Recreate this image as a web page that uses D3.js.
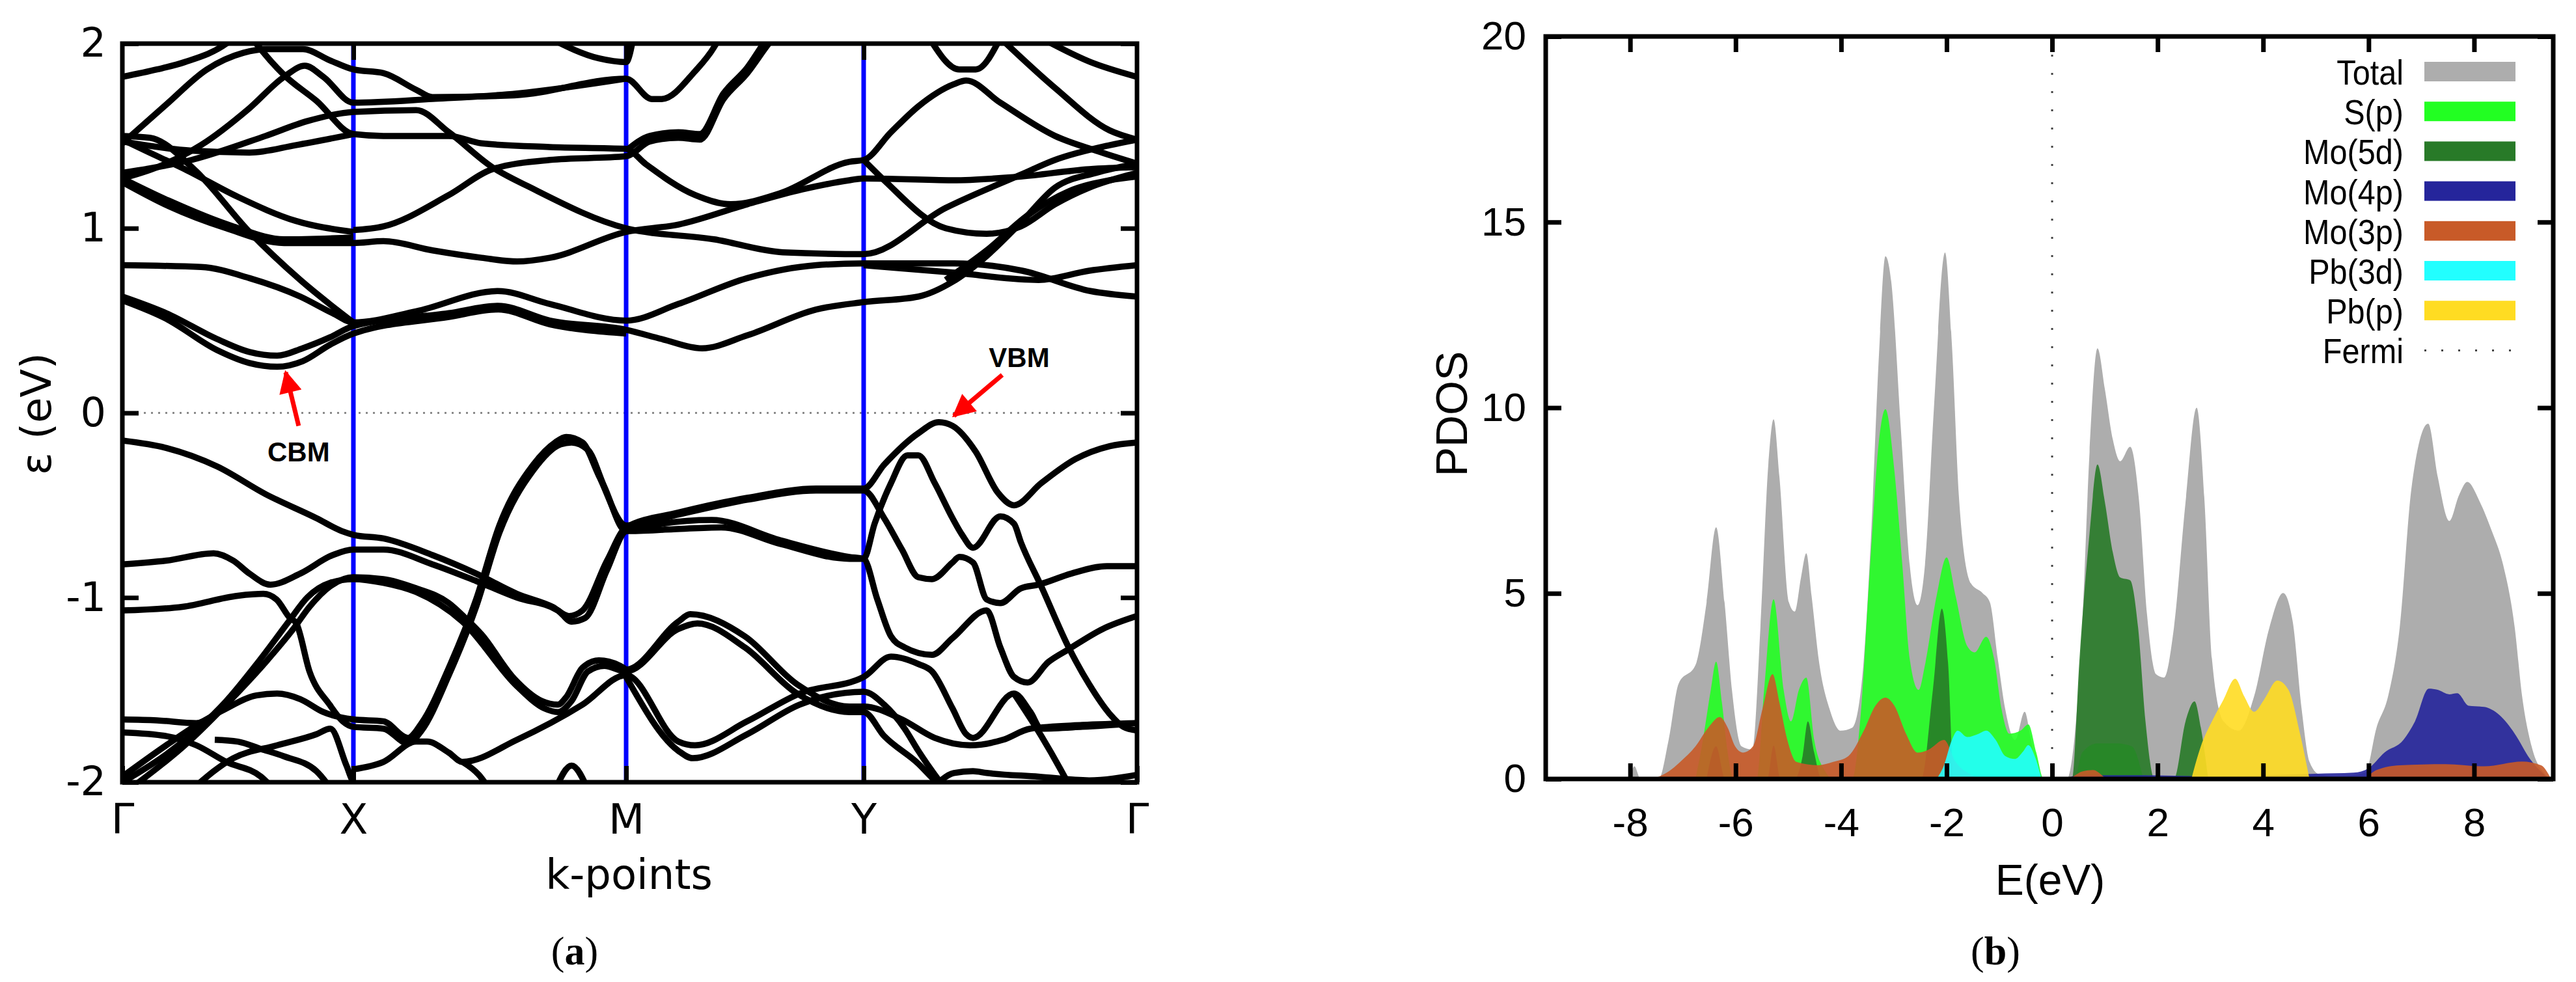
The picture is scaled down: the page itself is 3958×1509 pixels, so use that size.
<!DOCTYPE html>
<html>
<head>
<meta charset="utf-8">
<script src="https://cdn.jsdelivr.net/npm/d3@7"></script>
<style>
  body { margin: 0; background: #fff; }
</style>
</head>
<body>
<svg id="fig" width="3958" height="1509"></svg>
<script>
// ---------- band structure (panel a) ----------
const kLabels = ["Γ", "X", "M", "Y", "Γ"];
const kPath = [0, 0.2277, 0.4965, 0.7306, 1];   // relative path length of Γ X M Y Γ
const bandTicks = [-2, -1, 0, 1, 2];

// each band: [k (0..4 along Γ-X-M-Y-Γ), E (eV)]
const bandsUpper = [
  [[0,1.82],[0.15,1.86],[0.27,1.90],[0.45,2.0],[0.5,2.05]],
  [[0.55,2.05],[0.58,2.0],[0.70,1.83],[0.84,1.69],[1.0,1.51],[1.11,1.50],[1.35,1.50],[1.47,1.46],[1.72,1.44],[2.0,1.43],[2.08,1.35],[2.29,1.18],[2.44,1.13],[2.65,1.19],[2.94,1.36],[3.0,1.37],[3.1,1.52],[3.2,1.66],[3.33,1.78],[3.375,1.80],[3.5,1.68],[3.7,1.50],[3.85,1.42],[4,1.35]],
  [[1.0,0.99],[1.11,1.01],[1.35,1.18],[1.51,1.32],[1.72,1.37],[2.0,1.39],[2.1,1.47],[2.22,1.49],[2.31,1.48],[2.41,1.70],[2.51,1.84],[2.6,2.0],[2.65,2.08]],
  [[2.0,1.42],[2.1,1.50],[2.22,1.52],[2.31,1.51],[2.41,1.73],[2.51,1.87],[2.59,2.02],[2.63,2.08]],
  [[0,1.46],[0.19,1.67],[0.366,1.86],[0.524,1.95],[0.624,1.97],[0.782,1.97],[0.897,1.91],[1.0,1.86],[1.11,1.84],[1.23,1.75],[1.29,1.71],[1.59,1.72],[2.0,1.81],[2.108,1.70],[2.15,1.70],[2.29,1.85],[2.37,1.98],[2.4,2.05]],
  [[0,1.27],[0.15,1.33],[0.34,1.45],[0.55,1.65],[0.7,1.82],[0.79,1.88],[0.87,1.82],[1.0,1.68],[1.29,1.70],[1.6,1.73],[2.0,1.81]],
  [[0,1.30],[0.3,1.37],[0.62,1.50],[0.8,1.58],[1.0,1.63],[1.23,1.64],[1.35,1.52],[1.51,1.33],[1.65,1.22],[2.0,1.0],[2.37,0.94],[2.66,0.87],[3.0,0.86],[3.3,1.11],[3.575,1.29],[3.7,1.37],[3.9,1.45],[4,1.48]],
  [[0,1.25],[0.2,1.12],[0.45,1.0],[0.7,0.92],[1.0,0.92],[1.11,0.93],[1.29,0.88],[1.47,0.84],[1.6,0.82],[1.72,0.84],[2.0,0.98],[2.22,1.02],[2.51,1.13],[2.74,1.21],[2.94,1.26],[3.0,1.27],[3.325,1.26],[3.575,1.28],[3.825,1.32],[4,1.33]],
  [[0,1.27],[0.2,1.15],[0.48,1.01],[0.7,0.94],[1.0,0.95]],
  [[0,1.48],[0.1,1.42],[0.27,1.32],[0.5,1.17],[0.75,1.04],[1.0,0.98]],
  [[0,1.50],[0.12,1.49],[0.31,1.32],[0.55,0.98],[0.77,0.72],[1.0,0.49]],
  [[0,0.80],[0.34,0.79],[0.55,0.73],[0.77,0.63],[0.91,0.54],[1.0,0.49],[1.23,0.55],[1.53,0.66],[1.72,0.59],[2.0,0.50],[2.22,0.59],[2.51,0.73],[2.8,0.80],[3.0,0.81],[3.33,0.81],[3.58,0.77],[3.83,0.66],[4,0.63]],
  [[0,0.63],[0.19,0.54],[0.41,0.40],[0.55,0.33],[0.67,0.31],[0.78,0.35],[0.9,0.41],[1.0,0.47],[1.35,0.54],[1.53,0.58],[1.72,0.50],[2.0,0.45],[2.15,0.40],[2.32,0.35],[2.51,0.42],[2.8,0.56],[3.0,0.60],[3.2,0.63],[3.325,0.71],[3.45,0.85],[3.575,1.03],[3.7,1.22],[3.85,1.30],[4,1.35]],
  [[0,0.61],[0.19,0.51],[0.41,0.34],[0.55,0.27],[0.67,0.25],[0.78,0.28],[0.9,0.37],[1.0,0.43],[1.35,0.52],[1.53,0.56],[1.72,0.48],[2.0,0.43]],
  [[3.0,0.80],[3.325,0.76],[3.64,0.72],[3.825,0.77],[4,0.80]],
  [[3.3,0.72],[3.45,0.88],[3.6,1.07],[3.75,1.2],[3.9,1.26],[4,1.28]],
  [[3.0,1.37],[3.075,1.26],[3.3,1.0],[3.45,0.97],[3.575,1.01],[3.7,1.13],[3.825,1.22],[4,1.30]],
  [[1.72,2.03],[1.9,1.92],[2.0,1.90],[2.03,2.03]],
  [[3.24,2.03],[3.35,1.86],[3.41,1.86],[3.5,2.03]],
  [[3.5,2.03],[3.7,1.76],[3.9,1.53],[4,1.48]],
  [[3.65,2.03],[3.83,1.90],[4,1.82]],
  [[0,1.47],[0.3,1.42],[0.55,1.41],[0.75,1.45],[1.0,1.51]]
];

const bandsLower = [
  [[0,-0.15],[0.19,-0.19],[0.41,-0.29],[0.62,-0.44],[0.84,-0.57],[0.95,-0.64],[1.0,-0.66],[1.11,-0.68],[1.29,-0.77],[1.45,-0.87],[1.6,-0.98],[1.73,-1.05],[1.79,-1.10],[1.84,-1.07],[1.93,-0.80],[2.0,-0.62],[2.22,-0.54],[2.51,-0.46],[2.8,-0.41],[3.0,-0.41],[3.075,-0.28],[3.2,-0.11],[3.275,-0.05],[3.325,-0.07],[3.41,-0.21],[3.49,-0.43],[3.55,-0.50],[3.65,-0.38],[3.775,-0.25],[3.9,-0.18],[4,-0.16]],
  [[0,-0.82],[0.19,-0.80],[0.395,-0.76],[0.48,-0.80],[0.55,-0.87],[0.64,-0.93],[0.77,-0.87],[0.91,-0.77],[1.0,-0.74],[1.11,-0.74],[1.29,-0.82],[1.45,-0.91],[1.6,-1.0],[1.75,-1.07],[1.8,-1.13],[1.85,-1.11],[1.93,-0.85],[2.0,-0.64],[2.36,-0.58],[2.65,-0.69],[2.94,-0.78],[3.0,-0.79],[3.05,-1.01],[3.1,-1.21],[3.15,-1.27],[3.25,-1.31],[3.325,-1.22],[3.45,-1.07],[3.5,-1.27],[3.55,-1.43],[3.6,-1.46],[3.675,-1.35],[3.75,-1.28],[3.875,-1.17],[4,-1.10]],
  [[0,-1.66],[0.15,-1.665],[0.32,-1.68],[0.42,-1.62],[0.58,-1.53],[0.67,-1.52],[0.77,-1.55],[0.87,-1.62],[1.0,-1.66],[1.11,-1.67],[1.2,-1.76],[1.25,-1.68],[1.35,-1.38],[1.45,-1.01],[1.535,-0.61],[1.66,-0.28],[1.74,-0.16],[1.78,-0.13],[1.84,-0.16],[1.9,-0.34],[2.0,-0.61],[2.22,-0.55],[2.51,-0.47],[2.8,-0.42],[3.0,-0.42],[3.075,-0.57],[3.14,-0.74],[3.2,-0.89],[3.25,-0.90],[3.325,-0.81],[3.35,-0.78],[3.4,-0.81],[3.45,-1.01],[3.5,-1.03],[3.575,-0.95],[3.64,-0.93],[3.76,-0.87],[3.89,-0.83],[4,-0.83]],
  [[0,-1.07],[0.26,-1.05],[0.5,-0.99],[0.61,-0.98],[0.667,-1.01],[0.725,-1.11],[0.753,-1.14],[0.81,-1.40],[0.897,-1.58],[0.954,-1.67],[1.0,-1.70],[1.11,-1.71],[1.2,-1.79],[1.25,-1.72],[1.35,-1.42],[1.45,-1.05],[1.535,-0.65],[1.66,-0.31],[1.76,-0.17],[1.8,-0.16],[1.86,-0.2],[1.92,-0.4],[2.0,-0.64],[2.2,-0.63],[2.4,-0.62],[2.65,-0.71],[2.94,-0.79],[3.0,-0.79],[3.04,-0.6],[3.1,-0.38],[3.16,-0.23],[3.2,-0.23],[3.26,-0.38],[3.325,-0.57],[3.36,-0.66],[3.4,-0.73],[3.5,-0.56],[3.55,-0.60],[3.575,-0.70],[3.65,-0.94],[3.75,-1.27],[3.825,-1.47],[3.9,-1.63],[3.95,-1.70],[4,-1.72]],
  [[0.05,-2.02],[0.27,-1.80],[0.48,-1.54],[0.62,-1.35],[0.74,-1.17],[0.81,-1.05],[0.91,-0.93],[1.0,-0.89],[1.11,-0.90],[1.23,-0.95],[1.35,-1.03],[1.41,-1.11],[1.47,-1.20],[1.59,-1.44],[1.69,-1.56],[1.75,-1.58],[1.78,-1.54],[1.84,-1.38],[1.9,-1.34],[1.99,-1.38],[2.0,-1.39],[2.22,-1.13],[2.27,-1.09],[2.5,-1.21],[2.72,-1.47],[2.94,-1.59],[3.0,-1.59],[3.14,-1.66],[3.26,-1.76],[3.39,-1.80],[3.51,-1.77],[3.61,-1.71],[3.8,-1.69],[4,-1.68]],
  [[0,-2.0],[0.2,-1.84],[0.45,-1.56],[0.6,-1.33],[0.72,-1.13],[0.8,-1.0],[0.9,-0.92],[1.0,-0.90],[1.11,-0.92],[1.23,-0.97],[1.4,-1.13],[1.6,-1.48],[1.7,-1.6],[1.75,-1.62],[1.8,-1.56],[1.86,-1.40],[1.92,-1.37],[2.0,-1.40],[2.22,-1.17],[2.3,-1.14],[2.5,-1.27],[2.72,-1.52],[2.94,-1.62],[3.0,-1.62],[3.075,-1.75],[3.2,-1.90],[3.26,-1.99],[3.3,-2.04]],
  [[0,-1.97],[0.19,-1.80],[0.31,-1.70],[0.42,-1.62]],
  [[0,-1.73],[0.19,-1.75],[0.32,-1.80],[0.45,-1.89],[0.6,-1.97],[0.65,-2.03]],
  [[0.31,-2.03],[0.48,-1.87],[0.67,-1.80],[0.84,-1.74],[0.9,-1.71],[0.97,-1.91],[1.0,-2.0],[1.05,-2.04]],
  [[0.4,-1.77],[0.5,-1.78],[0.6,-1.82],[0.7,-1.86],[0.84,-1.94],[0.9,-2.03]],
  [[1.0,-1.93],[1.11,-1.89],[1.23,-1.78],[1.27,-1.78],[1.35,-1.84],[1.4,-1.89],[1.6,-1.77],[1.84,-1.58],[2.0,-1.42],[2.22,-1.78],[2.29,-1.80],[2.51,-1.67],[2.73,-1.52],[3.0,-1.43],[3.1,-1.32],[3.2,-1.36],[3.25,-1.40],[3.325,-1.60],[3.375,-1.74],[3.4,-1.76],[3.55,-1.52],[3.61,-1.62],[3.65,-1.71],[3.8,-1.70],[4,-1.68]],
  [[2.0,-1.43],[2.22,-1.83],[2.28,-1.87],[2.51,-1.74],[2.73,-1.58],[3.0,-1.51],[3.075,-1.58],[3.15,-1.71],[3.2,-1.83],[3.275,-1.99],[3.3,-2.04]],
  [[1.4,-1.89],[1.46,-1.96],[1.5,-2.04]],
  [[1.74,-2.04],[1.8,-1.91],[1.86,-2.04]],
  [[3.55,-1.52],[3.65,-1.75],[3.72,-1.93],[3.76,-2.04]],
  [[3.25,-2.04],[3.33,-1.95],[3.4,-1.94],[3.45,-1.95],[3.64,-1.97],[3.825,-1.99],[4,-1.96]]
];

const cbmArrow = [[0.763, -0.07], [0.707, 0.22]];
const vbmArrow = [[3.507, 0.206], [3.330, -0.016]];
const cbmLabel = [0.763, -0.21];
const vbmLabel = [3.569, 0.30];

// ---------- PDOS (panel b) ----------
const dosXTicks = [-8, -6, -4, -2, 0, 2, 4, 6, 8];
const dosYTicks = [0, 5, 10, 15, 20];
const dosNames = ["Total", "S(p)", "Mo(5d)", "Mo(4p)", "Mo(3p)", "Pb(3d)", "Pb(p)"];
const dosColors = ["#adadad", "#22ff22", "#287a28", "#25259b", "#c85a28", "#22ffff", "#ffdc22"];

const dosTotal = [[-8.0,0],[-7.92,0.34],[-7.8,0],[-7.46,0],[-7.27,1.05],[-7.08,2.57],[-6.76,3.07],[-6.55,4.76],[-6.37,6.78],[-6.21,4.76],[-6.07,2.4],[-5.89,0.88],[-5.68,0.79],[-5.53,4.08],[-5.38,8.47],[-5.28,9.69],[-5.17,8.14],[-4.99,4.76],[-4.88,4.51],[-4.76,5.43],[-4.66,6.08],[-4.56,4.93],[-4.41,3.07],[-4.22,1.89],[-4.01,1.30],[-3.79,1.38],[-3.6,2.73],[-3.43,6.62],[-3.28,11.5],[-3.16,14.08],[-3.05,13.4],[-2.87,9.49],[-2.70,5.77],[-2.55,4.68],[-2.41,5.77],[-2.24,10.0],[-2.03,14.18],[-1.90,11.7],[-1.76,7.46],[-1.54,5.27],[-1.32,5.01],[-1.18,4.76],[-1.03,3.24],[-0.89,1.89],[-0.70,1.05],[-0.52,1.81],[-0.41,1.13],[-0.26,0],[0.28,0],[0.42,1.05],[0.57,4.08],[0.71,8.81],[0.86,11.6],[1.0,10.5],[1.15,9.15],[1.29,8.56],[1.48,8.95],[1.65,7.46],[1.80,4.42],[1.97,2.82],[2.12,2.73],[2.31,4.08],[2.53,7.46],[2.74,10.0],[2.89,7.46],[3.03,3.24],[3.25,1.55],[3.54,1.30],[3.83,2.23],[4.12,4.08],[4.38,5.01],[4.56,4.25],[4.73,1.89],[4.88,0.46],[5.07,0.12],[5.43,0.07],[5.94,0.17],[6.15,1.38],[6.37,2.23],[6.59,4.08],[6.81,7.8],[7.13,9.57],[7.31,8.14],[7.53,6.95],[7.71,7.63],[7.87,8.0],[8.11,7.46],[8.33,6.7],[8.55,5.77],[8.77,4.08],[8.91,2.23],[9.09,0.88],[9.35,0.12],[9.46,0]];
const dosSp = [[-6.76,0],[-6.62,1.05],[-6.47,2.4],[-6.37,3.16],[-6.26,2.06],[-6.15,0.71],[-6.04,0],[-5.60,0],[-5.46,2.4],[-5.28,4.84],[-5.09,2.4],[-4.95,1.55],[-4.80,2.4],[-4.66,2.73],[-4.51,1.05],[-4.30,0.2],[-4.15,0],[-3.79,0],[-3.64,1.55],[-3.45,5.77],[-3.28,9.15],[-3.16,9.96],[-2.99,8.3],[-2.84,5.77],[-2.70,3.24],[-2.53,2.4],[-2.41,3.07],[-2.19,4.93],[-2.0,5.97],[-1.83,4.93],[-1.61,3.58],[-1.47,3.41],[-1.25,3.83],[-1.10,3.24],[-0.96,1.89],[-0.81,1.22],[-0.60,1.30],[-0.45,1.47],[-0.30,0.71],[-0.16,0],[0.42,0],[0.57,0.71],[0.86,0.96],[1.22,0.96],[1.51,0.88],[1.73,0]];
const dosMo5d = [[-6.55,0],[-6.37,0.88],[-6.2,0],[-5.4,0],[-5.28,0.9],[-5.15,0],[-4.88,0],[-4.73,0.62],[-4.63,1.55],[-4.51,0.71],[-4.37,0],[-2.48,0],[-2.26,2.4],[-2.09,4.59],[-1.97,3.07],[-1.86,0],[0.38,0],[0.52,3.24],[0.71,6.62],[0.86,8.47],[1.0,7.46],[1.15,6.11],[1.29,5.43],[1.48,5.35],[1.63,4.08],[1.77,1.55],[1.94,0],[2.31,0],[2.53,1.55],[2.70,2.09],[2.82,1.38],[2.96,0]];
const dosMo4p = [[0.28,0],[0.49,0.1],[1.65,0.1],[3.1,0.07],[4.99,0.14],[5.72,0.17],[6.0,0.29],[6.30,0.71],[6.66,1.05],[6.88,1.55],[7.14,2.43],[7.31,2.4],[7.53,2.28],[7.68,2.31],[7.90,1.97],[8.19,1.94],[8.48,1.72],[8.77,1.22],[9.06,0.54],[9.42,0]];
const dosMo3p = [[-7.56,0],[-7.27,0.2],[-7.05,0.46],[-6.76,0.88],[-6.52,1.38],[-6.30,1.67],[-6.15,1.38],[-6.01,0.88],[-5.86,0.71],[-5.67,0.88],[-5.49,1.89],[-5.30,2.82],[-5.17,2.06],[-5.02,1.05],[-4.85,0.46],[-4.44,0.37],[-4.15,0.46],[-3.86,0.62],[-3.57,1.30],[-3.35,1.97],[-3.16,2.19],[-2.99,1.97],[-2.77,1.22],[-2.55,0.71],[-2.34,0.79],[-2.05,1.05],[-1.83,0.46],[-1.54,0.12],[-1.25,0],[0.28,0],[0.57,0.2],[0.78,0.24],[1.07,0],[5.86,0],[6.15,0.24],[6.59,0.37],[7.46,0.4],[8.19,0.34],[8.91,0.47],[9.27,0.37],[9.46,0]];
const dosPb3d = [[-2.19,0],[-2.05,0.37],[-1.90,1.05],[-1.79,1.30],[-1.61,1.13],[-1.39,1.22],[-1.25,1.30],[-1.07,1.05],[-0.89,0.62],[-0.70,0.54],[-0.55,0.74],[-0.45,0.91],[-0.33,0.62],[-0.20,0]];
const dosPbp = [[2.64,0],[2.82,0.88],[3.03,1.55],[3.25,2.14],[3.47,2.70],[3.64,2.23],[3.83,1.81],[4.02,2.14],[4.27,2.65],[4.48,2.40],[4.70,1.22],[4.88,0]];
const dosSeries = [dosTotal, dosSp, dosMo5d, dosMo4p, dosMo3p, dosPb3d, dosPbp];

// ---------- layout ----------
const svg = d3.select("#fig");
const A = { x0: 188, x1: 1747, y0: 67, y1: 1202 };
const B = { x0: 2375, x1: 3923, y0: 56, y1: 1197 };
const leftFont = "DejaVu Sans";
const rightFont = "Liberation Sans, Arial, sans-serif";

const defs = svg.append("defs");
defs.append("clipPath").attr("id", "clipA").append("rect")
  .attr("x", A.x0).attr("y", A.y0).attr("width", A.x1 - A.x0).attr("height", A.y1 - A.y0);
defs.append("clipPath").attr("id", "clipB").append("rect")
  .attr("x", B.x0).attr("y", B.y0).attr("width", B.x1 - B.x0).attr("height", B.y1 - B.y0);
defs.append("marker").attr("id", "redhead")
  .attr("viewBox", "0 0 10 10").attr("refX", 9).attr("refY", 5)
  .attr("markerWidth", 5.5).attr("markerHeight", 5).attr("markerUnits", "strokeWidth")
  .attr("orient", "auto")
  .append("path").attr("d", "M0,0 L10,5 L0,10 Z").attr("fill", "#ff0000");

// ================= panel (a) =================
var bx = d3.scaleLinear()
  .domain([0, 1, 2, 3, 4])
  .range(kPath.map(p => A.x0 + p * (A.x1 - A.x0)));
var by = d3.scaleLinear().domain([-2, 2]).range([A.y1, A.y0]);

var ga = svg.append("g");

// fermi level
ga.append("line")
  .attr("x1", A.x0).attr("x2", A.x1).attr("y1", by(0)).attr("y2", by(0))
  .attr("stroke", "#8a8a8a").attr("stroke-width", 3).attr("stroke-dasharray", "3,8");

// high symmetry lines
ga.selectAll(".sym").data([1, 2, 3]).enter().append("line")
  .attr("x1", d => bx(d)).attr("x2", d => bx(d))
  .attr("y1", A.y0).attr("y2", A.y1)
  .attr("stroke", "#0000ff").attr("stroke-width", 7);

var bandLine = d3.line()
  .x(d => bx(d[0])).y(d => by(d[1]))
  .curve(d3.curveMonotoneX);

ga.append("g").attr("clip-path", "url(#clipA)")
  .selectAll("path").data(bandsUpper.concat(bandsLower)).enter().append("path")
  .attr("d", bandLine)
  .attr("fill", "none").attr("stroke", "#000").attr("stroke-width", 9.5)
  .attr("stroke-linejoin", "round");

// axes
function styleAxis(g, font, size) {
  g.select(".domain").remove();
  g.selectAll(".tick line").attr("stroke", "#000").attr("stroke-width", 7);
  g.selectAll("text").attr("font-family", font).attr("font-size", size).attr("fill", "#000");
}
ga.append("g").attr("transform", `translate(${A.x0},0)`)
  .call(d3.axisLeft(by).tickValues(bandTicks).tickSize(-25).tickPadding(25)
    .tickFormat(d => String(d)))
  .call(g => styleAxis(g, leftFont, 62));
ga.append("g").attr("transform", `translate(${A.x1},0)`)
  .call(d3.axisRight(by).tickValues(bandTicks).tickSize(-25).tickFormat(""))
  .call(g => styleAxis(g, leftFont, 62));
ga.append("g").attr("transform", `translate(0,${A.y1})`)
  .call(d3.axisBottom(bx).tickValues([0, 1, 2, 3, 4]).tickSize(-25).tickPadding(34)
    .tickFormat((d, i) => kLabels[i]))
  .call(g => styleAxis(g, leftFont, 64));
ga.append("g").attr("transform", `translate(0,${A.y0})`)
  .call(d3.axisTop(bx).tickValues([1, 2, 3]).tickSize(-25).tickFormat(""))
  .call(g => styleAxis(g, leftFont, 62));

ga.append("rect")
  .attr("x", A.x0).attr("y", A.y0).attr("width", A.x1 - A.x0).attr("height", A.y1 - A.y0)
  .attr("fill", "none").attr("stroke", "#000").attr("stroke-width", 7);

// CBM / VBM annotations
[cbmArrow, vbmArrow].forEach(a => {
  ga.append("line")
    .attr("x1", bx(a[0][0])).attr("y1", by(a[0][1]))
    .attr("x2", bx(a[1][0])).attr("y2", by(a[1][1]))
    .attr("stroke", "#ff0000").attr("stroke-width", 7)
    .attr("marker-end", "url(#redhead)");
});
ga.append("text").attr("x", bx(cbmLabel[0])).attr("y", by(cbmLabel[1]))
  .attr("dy", "0.36em").attr("text-anchor", "middle")
  .attr("font-family", "Liberation Sans").attr("font-weight", "bold").attr("font-size", 42)
  .text("CBM");
ga.append("text").attr("x", bx(vbmLabel[0])).attr("y", by(vbmLabel[1]))
  .attr("dy", "0.36em").attr("text-anchor", "middle")
  .attr("font-family", "Liberation Sans").attr("font-weight", "bold").attr("font-size", 42)
  .text("VBM");

// titles
ga.append("text").attr("x", (A.x0 + A.x1) / 2 - 1).attr("y", 1366)
  .attr("text-anchor", "middle").attr("font-family", leftFont).attr("font-size", 64)
  .text("k-points");
ga.append("text").attr("transform", "translate(78,636) rotate(-90)")
  .attr("text-anchor", "middle").attr("font-family", leftFont).attr("font-size", 64)
  .text("ε (eV)");
var capA = ga.append("text").attr("x", 883).attr("y", 1482).attr("text-anchor", "middle")
  .attr("font-family", "Liberation Serif").attr("font-size", 62);
capA.append("tspan").text("(");
capA.append("tspan").attr("font-weight", "bold").text("a");
capA.append("tspan").text(")");

// ================= panel (b) =================
var px = d3.scaleLinear().domain([-9.6, 9.5]).range([B.x0, B.x1]);
var py = d3.scaleLinear().domain([0, 20]).range([B.y1, B.y0]);

var gb = svg.append("g");

var dosArea = d3.area()
  .x(d => px(d[0])).y0(py(0)).y1(d => py(d[1]))
  .curve(d3.curveMonotoneX);

gb.append("g").attr("clip-path", "url(#clipB)")
  .selectAll("path").data(dosSeries).enter().append("path")
  .attr("d", dosArea)
  .attr("fill", (d, i) => dosColors[i])
  .attr("fill-opacity", (d, i) => i === 0 ? 1 : 0.9);

// fermi level
gb.append("line")
  .attr("x1", px(0)).attr("x2", px(0)).attr("y1", B.y0).attr("y2", B.y1)
  .attr("stroke", "#444").attr("stroke-width", 3).attr("stroke-dasharray", "3,25");

gb.append("g").attr("transform", `translate(${B.x0},0)`)
  .call(d3.axisLeft(py).tickValues(dosYTicks).tickSize(-24).tickPadding(30))
  .call(g => styleAxis(g, rightFont, 62));
gb.append("g").attr("transform", `translate(${B.x1},0)`)
  .call(d3.axisRight(py).tickValues(dosYTicks).tickSize(-24).tickFormat(""))
  .call(g => styleAxis(g, rightFont, 62));
gb.append("g").attr("transform", `translate(0,${B.y1})`)
  .call(d3.axisBottom(px).tickValues(dosXTicks).tickSize(-24).tickPadding(44)
    .tickFormat(d => String(d)))
  .call(g => styleAxis(g, rightFont, 62));
gb.append("g").attr("transform", `translate(0,${B.y0})`)
  .call(d3.axisTop(px).tickValues(dosXTicks).tickSize(-24).tickFormat(""))
  .call(g => styleAxis(g, rightFont, 62));

gb.append("rect")
  .attr("x", B.x0).attr("y", B.y0).attr("width", B.x1 - B.x0).attr("height", B.y1 - B.y0)
  .attr("fill", "none").attr("stroke", "#000").attr("stroke-width", 7);

// legend
var legend = gb.append("g");
var rowY = i => 110 + i * 61.2;
dosNames.forEach((name, i) => {
  legend.append("text")
    .attr("transform", `translate(3693,${rowY(i) + 20}) scale(0.9,1)`)
    .attr("text-anchor", "end").attr("font-family", rightFont).attr("font-size", 54)
    .text(name);
  legend.append("rect")
    .attr("x", 3725).attr("y", rowY(i) - 15).attr("width", 140).attr("height", 30)
    .attr("fill", dosColors[i]);
});
legend.append("text")
  .attr("transform", `translate(3693,${rowY(7) + 20}) scale(0.9,1)`)
  .attr("text-anchor", "end").attr("font-family", rightFont).attr("font-size", 54)
  .text("Fermi");
legend.append("line")
  .attr("x1", 3725).attr("x2", 3865).attr("y1", rowY(7)).attr("y2", rowY(7))
  .attr("stroke", "#444").attr("stroke-width", 3).attr("stroke-dasharray", "3,23");

gb.append("text").attr("x", 3150).attr("y", 1375).attr("text-anchor", "middle")
  .attr("font-family", rightFont).attr("font-size", 66).text("E(eV)");
gb.append("text").attr("transform", "translate(2254,636) rotate(-90)")
  .attr("text-anchor", "middle").attr("font-family", rightFont).attr("font-size", 68)
  .text("PDOS");
var capB = gb.append("text").attr("x", 3066).attr("y", 1482).attr("text-anchor", "middle")
  .attr("font-family", "Liberation Serif").attr("font-size", 62);
capB.append("tspan").text("(");
capB.append("tspan").attr("font-weight", "bold").text("b");
capB.append("tspan").text(")");
</script>
</body>
</html>
